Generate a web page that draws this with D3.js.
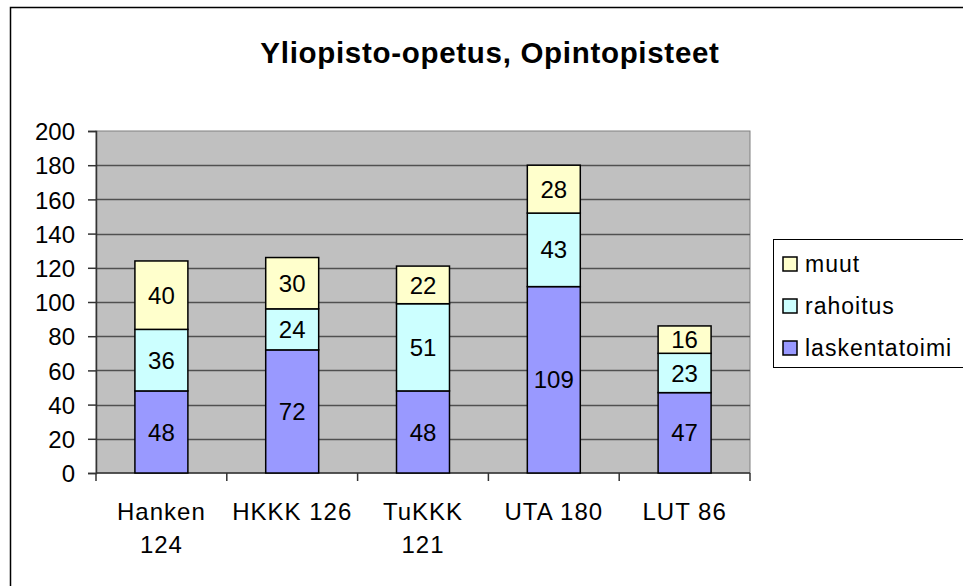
<!DOCTYPE html>
<html>
<head>
<meta charset="utf-8">
<script src="https://cdn.jsdelivr.net/npm/d3@7"></script>
<style>
  body { margin: 0; background: #fff; }
  svg { display: block; font-family: Arial, "Liberation Sans", sans-serif; }
</style>
</head>
<body>
<div id="chart"></div>
<script>
var svgWidth = 963;
var svgHeight = 586;

// data
var categories = ["Hanken 124", "HKKK 126", "TuKKK 121", "UTA 180", "LUT 86"];
var categoryLines = [["Hanken", "124"], ["HKKK 126"], ["TuKKK", "121"], ["UTA 180"], ["LUT 86"]];
var laskentatoimi = [48, 72, 48, 109, 47];
var rahoitus = [36, 24, 51, 43, 23];
var muut = [40, 30, 22, 28, 16];
var seriesNames = ["laskentatoimi", "rahoitus", "muut"];
var seriesColors = ["#9999ff", "#ccffff", "#ffffcc"];
var yTicks = [0, 20, 40, 60, 80, 100, 120, 140, 160, 180, 200];

var margin = { top: 131, left: 96 };
var width = 750 - 96;
var height = 473 - 131;

var svg = d3.select("#chart")
  .append("svg")
  .attr("width", svgWidth)
  .attr("height", svgHeight);

// outer chart border (runs off the right / bottom edge)
svg.append("rect")
  .attr("x", 10.5)
  .attr("y", 7.5)
  .attr("width", 1000)
  .attr("height", 1000)
  .attr("fill", "#fff")
  .attr("stroke", "#000")
  .attr("stroke-width", 1.5);

svg.append("text")
  .attr("x", 490)
  .attr("y", 63)
  .attr("text-anchor", "middle")
  .attr("font-size", "29.5px")
  .attr("font-weight", "bold")
  .attr("letter-spacing", "0.7px")
  .text("Yliopisto-opetus, Opintopisteet");

var chartGroup = svg.append("g")
  .attr("transform", `translate(${margin.left}, ${margin.top})`);

var rows = categories.map(function(c, i) {
  return { cat: c, laskentatoimi: laskentatoimi[i], rahoitus: rahoitus[i], muut: muut[i] };
});
var stacked = d3.stack().keys(seriesNames)(rows);

var xScale = d3.scaleBand()
  .domain(categories)
  .range([0, width])
  .paddingInner(0.595)
  .paddingOuter(0.2975);

var yScale = d3.scaleLinear()
  .domain([0, 200])
  .range([height, 0]);

// plot area
chartGroup.append("rect")
  .attr("width", width)
  .attr("height", height)
  .attr("fill", "#c0c0c0")
  .attr("stroke", "#808080")
  .attr("stroke-width", 1);

// gridlines
chartGroup.selectAll(".grid")
  .data(yTicks.slice(1, -1))
  .enter()
  .append("line")
  .attr("x1", 0)
  .attr("x2", width)
  .attr("y1", d => Math.round(yScale(d)) + 0.5)
  .attr("y2", d => Math.round(yScale(d)) + 0.5)
  .attr("stroke", "#505050")
  .attr("stroke-width", 1.5);

// y axis
var leftAxis = d3.axisLeft(yScale).tickValues(yTicks).tickSize(8).tickPadding(13);
var yAxisG = chartGroup.append("g").call(leftAxis);
yAxisG.select(".domain").attr("stroke", "#333").attr("stroke-width", 1.5);
yAxisG.selectAll(".tick line").attr("stroke", "#333").attr("stroke-width", 1.5);
yAxisG.selectAll(".tick text")
  .attr("font-size", "24px")
  .attr("font-family", "Arial, 'Liberation Sans', sans-serif")
  .attr("fill", "#000")
  .attr("dy", "0.36em");

// x axis with tick marks between categories
var step = xScale.step();
chartGroup.append("line")
  .attr("x1", 0).attr("x2", width)
  .attr("y1", height).attr("y2", height)
  .attr("stroke", "#333").attr("stroke-width", 1.5);
chartGroup.selectAll(".xtick")
  .data(d3.range(categories.length + 1))
  .enter()
  .append("line")
  .attr("x1", i => i * step).attr("x2", i => i * step)
  .attr("y1", height).attr("y2", height + 8)
  .attr("stroke", "#333").attr("stroke-width", 1.5);

var xLabels = chartGroup.selectAll(".xlabel")
  .data(categories)
  .enter()
  .append("text")
  .attr("text-anchor", "middle")
  .attr("font-size", "24px")
  .attr("letter-spacing", "1px")
  .attr("transform", d => `translate(${xScale(d) + xScale.bandwidth() / 2}, ${height + 47})`);
xLabels.selectAll("tspan")
  .data((d, i) => categoryLines[i])
  .enter()
  .append("tspan")
  .attr("x", 0)
  .attr("y", (d, j) => j * 33)
  .text(d => d);

// stacked bars
var layers = chartGroup.selectAll(".layer")
  .data(stacked)
  .enter()
  .append("g")
  .attr("fill", (d, i) => seriesColors[i]);

layers.selectAll("rect")
  .data(d => d)
  .enter()
  .append("rect")
  .attr("x", d => xScale(d.data.cat))
  .attr("y", d => yScale(d[1]))
  .attr("width", xScale.bandwidth())
  .attr("height", d => yScale(d[0]) - yScale(d[1]))
  .attr("stroke", "#000")
  .attr("stroke-width", 1.5);

layers.selectAll("text")
  .data(d => d.map(v => ({ v: v, key: d.key })))
  .enter()
  .append("text")
  .attr("x", d => xScale(d.v.data.cat) + xScale.bandwidth() / 2)
  .attr("y", d => (yScale(d.v[0]) + yScale(d.v[1])) / 2)
  .attr("dy", "0.36em")
  .attr("text-anchor", "middle")
  .attr("font-size", "24px")
  .attr("fill", "#000")
  .text(d => d.v.data[d.key]);

// legend
var legend = svg.append("g").attr("transform", "translate(773, 239)");
legend.append("rect")
  .attr("x", 0.5).attr("y", 0.5)
  .attr("width", 300).attr("height", 128)
  .attr("fill", "#fff")
  .attr("stroke", "#000")
  .attr("stroke-width", 1);

var legendOrder = [2, 1, 0];
var legendItems = legend.selectAll(".item")
  .data(legendOrder)
  .enter()
  .append("g")
  .attr("transform", (d, i) => `translate(10, ${25 + i * 42})`);
legendItems.append("rect")
  .attr("x", 0).attr("y", -7)
  .attr("width", 14).attr("height", 14)
  .attr("fill", d => seriesColors[d])
  .attr("stroke", "#000")
  .attr("stroke-width", 1.5);
legendItems.append("text")
  .attr("x", 22)
  .attr("dy", "0.36em")
  .attr("font-size", "23px")
  .attr("letter-spacing", "1px")
  .text(d => seriesNames[d]);
</script>
</body>
</html>
